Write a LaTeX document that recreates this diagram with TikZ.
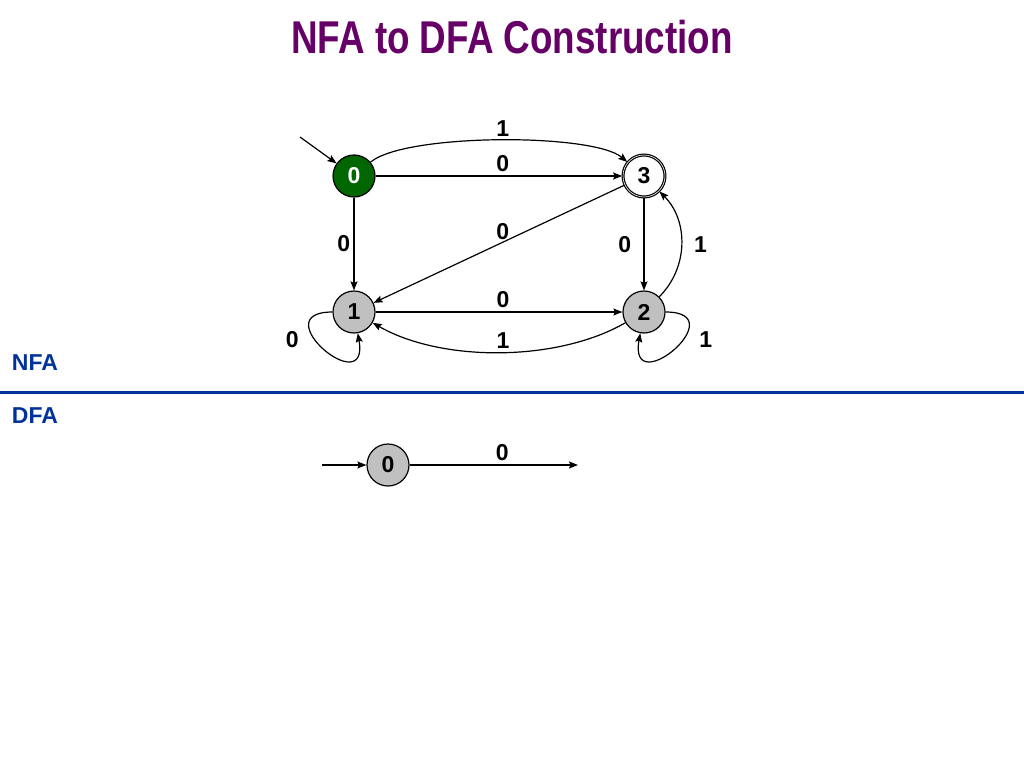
\documentclass[tikz,border=0pt]{standalone}
\usepackage{fontspec}
\setmainfont{Liberation Sans}
\usepackage{xcolor}
\definecolor{colorTitle}{RGB}{102,0,102}
\definecolor{colorSection}{RGB}{0,51,153}
\definecolor{colorStart}{RGB}{0,102,0}
\definecolor{colorState}{RGB}{192,192,192}
\usepackage{tikz}
\usetikzlibrary{arrows.meta, automata, positioning}
\tikzset{initial text ={}, every state/.style={draw, line width=1.2pt, minimum size=42pt, inner sep=0pt, fill=colorState}}

\begin{document}
\begin{tikzpicture}[x=1pt, y=-1pt, >={Stealth[length=9pt, width=7pt, inset=1.5pt]}, line width=1.2pt, node distance=290pt, font=\fontsize{23}{25}\selectfont\bfseries]
\useasboundingbox (0,0) rectangle (1024,768);
\node[colorTitle, font=\fontsize{46}{50}\selectfont\bfseries] (title) at (512,37) {\scalebox{0.8}[1]{NFA to DFA Construction}};
% NFA
\node[state, fill=colorStart, text=white] (q0) at (354,176) {0};
\node[state, accepting, fill=white, right of =q0] (q3) {3};
\node[state, below of =q0, node distance=136pt] (q1) {1};
\node[state, right of =q1] (q2) {2};
\coordinate (q0start) at (300,137);
\draw [->] (q0start) -- (q0);
\draw [->] (q0) edge [out=40, in=140, looseness=0.45, above] node [xshift=4pt] {1} (q3);
\draw [->] (q0) edge [above] node [xshift=4pt] {0} (q3);
\draw [->] (q0) edge [left] node {0} (q1);
\draw [->] (q3) edge [above] node [xshift=4pt] {0} (q1);
\draw [->] (q3) edge [] node [left=9pt] {0} (q2);
\draw [->] (q2) edge [bend right=45] node [right=9pt] {1} (q3);
\draw [->] (q1) edge [above] node [xshift=4pt] {0} (q2);
\draw [->] (q2) edge [bend left=30, looseness=0.8, above] node [xshift=4pt] {1} (q1);
\draw [->] (q1) edge [out=180, in=-80, min distance=70pt, max distance=70pt] node [pos=0.4, left=12pt] {0} (q1);
\draw [->] (q2) edge [out=0, in=260, min distance=70pt, max distance=70pt] node [pos=0.4, right=12pt] {1} (q2);
\node[colorSection, anchor=west] (nfa) at (8,363) {NFA};
% separator
\draw [colorSection, line width=3pt] (0,392) -- (1024,392);
% DFA
\node[colorSection, anchor=west] (dfa) at (8,416) {DFA};
\node[state, initial, initial where=left, initial distance=44pt] (d0) at (388,465) {0};
\coordinate (d0out) at (578,465);
\draw [->] (d0) -- node [pos=0.55, above] {0} (d0out);
\end{tikzpicture}
\end{document}
